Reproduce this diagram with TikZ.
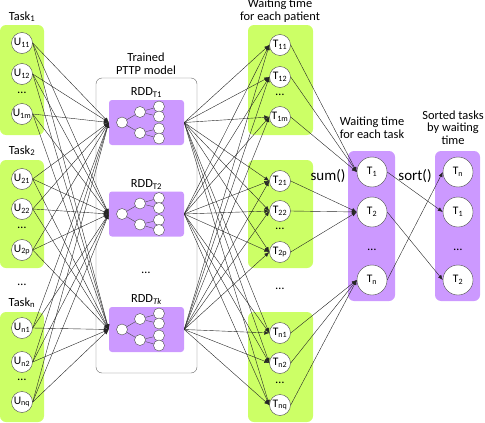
\documentclass[tikz,border=0pt]{standalone}
\usepackage{fontspec}
\setmainfont{Carlito}
\usetikzlibrary{arrows.meta}
\definecolor{lime}{RGB}{204,255,102}
\definecolor{lilac}{RGB}{204,153,255}

\begin{document}
\begin{tikzpicture}[x=1pt,y=-1pt,
		font=\fontsize{12.4}{12.6}\selectfont,
		grp/.style={fill=lime,rounded corners=6pt},
		col/.style={fill=lilac,rounded corners=6pt},
		rdd/.style={fill=lilac,rounded corners=3pt,minimum width=75pt,minimum height=45pt,inner sep=0pt},
		unode/.style={circle,draw=black!70,fill=white,minimum size=21pt,inner sep=0pt,font=\fontsize{11.5}{12}\selectfont},
		snode/.style={circle,draw=black!70,fill=white,minimum size=30pt,inner sep=0pt,font=\fontsize{11.5}{12}\selectfont},
		leaf/.style={circle,draw=black!70,fill=white,minimum size=11pt,inner sep=0pt},
		link/.style={draw=black!85,line width=0.4pt,-{Latex[length=5pt,width=4pt]}},
		ttl/.style={align=center}]
	\useasboundingbox (0,0) rectangle (485,423);

	% task groups
	\fill[grp] (0,25) rectangle (44,135);
	\fill[grp] (0,160) rectangle (44,268);
	\fill[grp] (0,312) rectangle (44,422);
	\node[anchor=base] (task1) at (22,20) {Task\textsubscript{1}};
	\node[anchor=base] (task2) at (22,154) {Task\textsubscript{2}};
	\node[anchor=base] (taskn) at (22,306) {Task\textsubscript{n}};
	\node (dotstask) at (22,285) {\ldots};
	\foreach \n/\t/\y in {u11/11/43, u12/12/74, u1m/1m/114, u21/21/179, u22/22/209, u2p/2p/250, un1/n1/328, un2/n2/362, unq/nq/402}
		\node[unode] (\n) at (22,\y) {U\textsubscript{\t}};
	\node (dotsu1) at (22,93) {\ldots};
	\node (dotsu2) at (22,228) {\ldots};
	\node (dotsun) at (22,380) {\ldots};

	% trained model
	\draw[black!60,rounded corners=6pt] (96,78) rectangle (197,373);
	\node[ttl] (model) at (146,63.5) {Trained\\PTTP model};
	\node[rdd] (rdd1) at (146.5,122.5) {};
	\node[rdd] (rdd2) at (146.5,214) {};
	\node[rdd] (rddk) at (146.5,329.5) {};
	\node (dotsrdd) at (146,273) {\ldots};
	\foreach \r/\s in {rdd1/T1, rdd2/T2, rddk/\textit{Tk}} {
		\node[anchor=base] (\r-lbl) at ([yshift=4pt]\r.north) {RDD\textsubscript{\s}};
		\begin{scope}[shift={(\r.center)}]
			\node[leaf] (\r-a) at (-24.5,0) {};
			\node[leaf] (\r-b) at (-6.5,-10.5) {};
			\node[leaf] (\r-c) at (-6.5,10.5) {};
			\foreach \i/\dy in {1/-16,2/-6,3/6,4/16}
				\node[leaf] (\r-l\i) at (12.5,\dy) {};
		\end{scope}
		\draw[black!70,line width=0.4pt] (\r-a) -- (\r-b) (\r-a) -- (\r-c)
			(\r-b) -- (\r-l1) (\r-b) -- (\r-l2) (\r-c) -- (\r-l3) (\r-c) -- (\r-l4);
	}

	% waiting time for each patient
	\fill[grp] (248,25) rectangle (313,135);
	\fill[grp] (248,160) rectangle (313,268);
	\fill[grp] (248,312) rectangle (313,422);
	\node[ttl] (wpat) at (280,11) {Waiting time\\for each patient};
	\foreach \n/\t/\y in {t11/11/45, t12/12/77, t1m/1m/117, t21/21/181, t22/22/211, t2p/2p/252, tn1/n1/333, tn2/n2/363, tnq/nq/405}
		\node[unode] (\n) at (280,\y) {T\textsubscript{\t}};
	\node (dotst1) at (280,95) {\ldots};
	\node (dotst2) at (280,229) {\ldots};
	\node (dotstask2) at (280,289) {\ldots};
	\node (dotstn) at (280,383) {\ldots};

	% waiting time for each task
	\fill[col] (348,151) rectangle (395,301);
	\node[ttl] (wtask) at (372,127.5) {Waiting time\\for each task};
	\node[snode] (s1) at (372,172) {T\textsubscript{1}};
	\node[snode] (s2) at (372,212) {T\textsubscript{2}};
	\node (dotss) at (372,250) {\ldots};
	\node[snode] (sn) at (372,280) {T\textsubscript{n}};
	\node[font=\fontsize{15}{16}\selectfont] (sum) at (328,176) {sum()};

	% sorted tasks
	\fill[col] (435,151) rectangle (480,301);
	\node[ttl,inner xsep=1pt] (sorted) at (453,127.5) {Sorted tasks\\by waiting\\time};
	\node[snode] (on) at (458,172) {T\textsubscript{n}};
	\node[snode] (o1) at (458,212) {T\textsubscript{1}};
	\node (dotso) at (458,250) {\ldots};
	\node[snode] (o2) at (458,280) {T\textsubscript{2}};
	\node[font=\fontsize{15}{16}\selectfont] (sort) at (415,176) {sort()};

	% connections
	\foreach \u in {u11,u12,u1m,u21,u22,u2p,un1,un2,unq}
		\foreach \r in {rdd1,rdd2,rddk}
			\draw[link] (\u.east) -- (\r.west);
	\foreach \r in {rdd1,rdd2,rddk}
		\foreach \t in {t11,t12,t1m,t21,t22,t2p,tn1,tn2,tnq}
			\draw[link] (\r.east) -- (\t.west);
	\foreach \t in {t11,t12,t1m}
		\draw[link] (\t.east) -- (s1.west);
	\foreach \t in {t21,t22,t2p}
		\draw[link] (\t.east) -- (s2.west);
	\foreach \t in {tn1,tn2,tnq}
		\draw[link] (\t.east) -- (sn.west);
	\draw[link] (s1.east) -- (o1.west);
	\draw[link] (s2.east) -- (o2.west);
	\draw[link] (sn.east) -- (on.west);
\end{tikzpicture}
\end{document}
